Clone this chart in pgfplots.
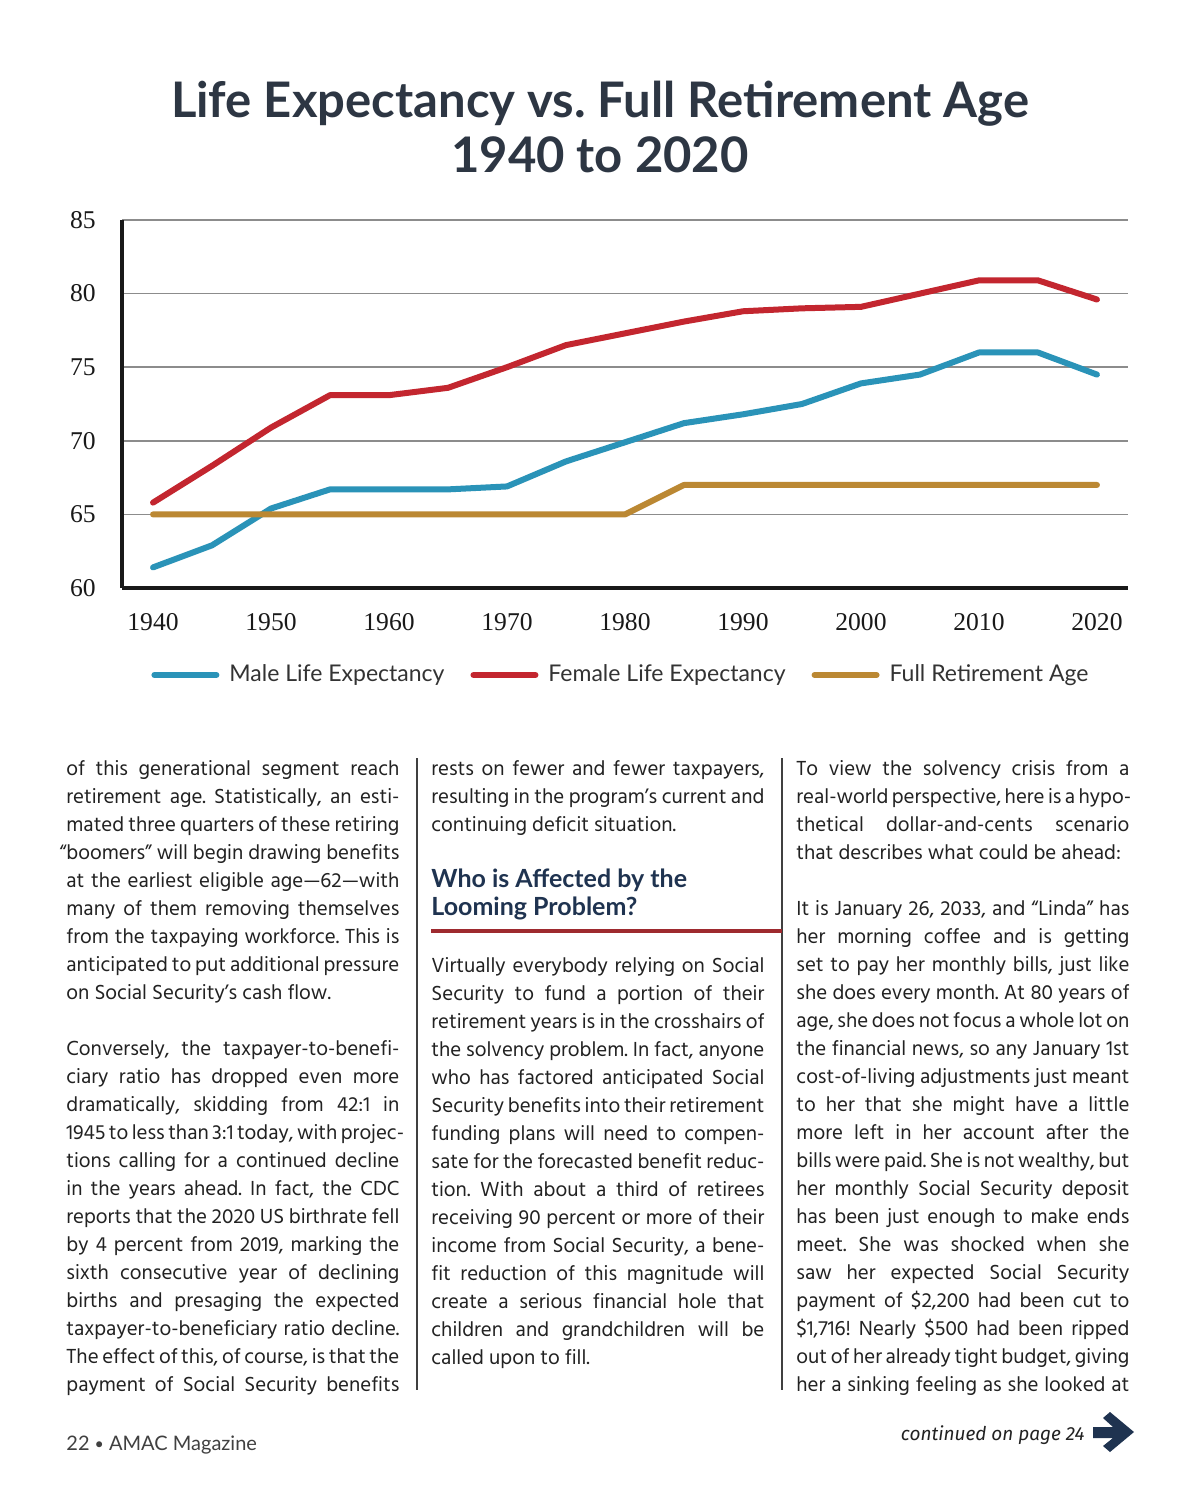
\documentclass[border=0pt]{standalone}
\usepackage{pgfplots}
\pgfplotsset{compat=1.18}
\usepackage{fontspec}
\setmainfont{Lato}
\newfontfamily\bodyfont{Hind Madurai}
\newfontfamily\tickfont{Liberation Serif}
\newfontfamily\notefont{Fira Sans}

\definecolor{male}{HTML}{2A93B8}
\definecolor{female}{HTML}{C3262F}
\definecolor{fra}{HTML}{BB8833}
\definecolor{titlecol}{HTML}{2D3643}
\definecolor{headcol}{HTML}{1F3350}
\definecolor{rulecol}{HTML}{9E2A2F}
\definecolor{bodycol}{HTML}{222222}

\frenchspacing
\newlength\cw
\setlength\cw{166.5pt}
\newcommand\jline[1]{\hbox to \cw{#1}}
\newcommand\lline[1]{\hbox to \cw{#1\hfil}}
\newcommand\bline{\hbox{}}
\newcommand\bodysize{\bodyfont\fontsize{10.45}{14}\selectfont}

\pgfplotstableread{
year male female fra
1940 61.4 65.8 65
1945 62.9 68.3 65
1950 65.4 70.9 65
1955 66.7 73.1 65
1960 66.7 73.1 65
1965 66.7 73.6 65
1970 66.9 75.0 65
1975 68.6 76.5 65
1980 69.9 77.3 65
1985 71.2 78.1 67
1990 71.8 78.8 67
1995 72.5 79.0 67
2000 73.9 79.1 67
2005 74.5 80.0 67
2010 76.0 80.9 67
2015 76.0 80.9 67
2020 74.5 79.6 67
}\lifedata

\begin{document}
\begin{tikzpicture}
\begin{scope}[x=0.5pt,y=-0.5pt]
\path[fill=white] (0,0) rectangle (1200,1504);

% title
\node[anchor=base, inner sep=0, text=titlecol, font=\bfseries\fontsize{24.5}{28}\selectfont] at (600,118) {Life Expectancy vs. Full Retirement Age};
\node[anchor=base, inner sep=0, text=titlecol, font=\bfseries\fontsize{24.5}{28}\selectfont] at (600,172) {1940 to 2020};
\end{scope}

\begin{axis}[
  at={(61pt,-294pt)}, anchor=south west,
  scale only axis, width=503pt, height=184pt,
  xmin=1937.37, xmax=2022.63, ymin=60, ymax=85,
  axis x line*=bottom, axis y line*=left,
  axis line style={line width=2pt, black!90, -},
  xtick={1940,1950,...,2020}, ytick={60,65,...,85},
  major tick length=0pt,
  ymajorgrids, major grid style={black!45, line width=0.75pt},
  tick label style={font=\tickfont\fontsize{12.8}{14}\selectfont, text=black!90, inner sep=0pt, /pgf/number format/assume math mode=true},
  x tick label style={/pgf/number format/1000 sep={}, yshift=-12.5pt},
  y tick label style={xshift=-13pt},
  legend style={at={(0.5,-0.2364)}, anchor=center, draw=none, fill=none,
    font=\fontsize{11.5}{13}\selectfont, text=black!80,
    nodes={inner xsep=5pt},
    /tikz/every even column/.append style={column sep=8pt}},
  legend columns=3, legend cell align=left,
  legend image code/.code={\draw[#1, line cap=round] (0pt,0pt) -- (31pt,0pt);},
  every axis plot/.append style={line width=3pt, line join=round, line cap=round},
]
\addplot[male] table[x=year, y=male] {\lifedata};
\addlegendentry{Male Life Expectancy}
\addplot[female] table[x=year, y=female] {\lifedata};
\addlegendentry{Female Life Expectancy}
\addplot[fra] table[x=year, y=fra] {\lifedata};
\addlegendentry{Full Retirement Age}
\end{axis}

\begin{scope}[x=0.5pt,y=-0.5pt]
% column rules
\draw[black!75, line width=0.75pt] (417,758) -- (417,1390);
\draw[black!75, line width=0.75pt] (782,758) -- (782,1390);

% column 1
\node[anchor=base west, inner sep=0, text=bodycol, font=\bodysize] at (66,775) {\vtop{\baselineskip=14pt
\jline{of this generational segment reach}
\jline{retirement age. Statistically, an esti-}
\jline{mated three quarters of these retiring}
\jline{\llap{“}boomers” will begin drawing benefits}
\jline{at the earliest eligible age—62—with}
\jline{many of them removing themselves}
\jline{from the taxpaying workforce. This is}
\jline{anticipated to put additional pressure}
\lline{on Social Security’s cash flow.}
\bline
\jline{Conversely, the taxpayer-to-benefi-}
\jline{ciary ratio has dropped even more}
\jline{dramatically, skidding from 42:1 in}
\jline{1945 to less than 3:1 today, with projec-}
\jline{tions calling for a continued decline}
\jline{in the years ahead. In fact, the CDC}
\jline{reports that the 2020 US birthrate fell}
\jline{by 4 percent from 2019, marking the}
\jline{sixth consecutive year of declining}
\jline{births and presaging the expected}
\jline{taxpayer-to-beneficiary ratio decline.}
\jline{The effect of this, of course, is that the}
\jline{payment of Social Security benefits}
}};

% column 2
\node[anchor=base west, inner sep=0, text=bodycol, font=\bodysize] at (431,775) {\vtop{\baselineskip=14pt
\jline{rests on fewer and fewer taxpayers,}
\jline{resulting in the program’s current and}
\lline{continuing deficit situation.}
}};
\node[anchor=base west, inner sep=0, text=headcol, font=\bfseries\fontsize{12.5}{14}\selectfont] at (431,887) {Who is Affected by the};
\node[anchor=base west, inner sep=0, text=headcol, font=\bfseries\fontsize{12.5}{14}\selectfont] at (431,915) {Looming Problem?};
\draw[rulecol, line width=2pt] (431,931) -- (782,931);
\node[anchor=base west, inner sep=0, text=bodycol, font=\bodysize] at (431,972) {\vtop{\baselineskip=14pt
\jline{Virtually everybody relying on Social}
\jline{Security to fund a portion of their}
\jline{retirement years is in the crosshairs of}
\jline{the solvency problem. In fact, anyone}
\jline{who has factored anticipated Social}
\jline{Security benefits into their retirement}
\jline{funding plans will need to compen-}
\jline{sate for the forecasted benefit reduc-}
\jline{tion. With about a third of retirees}
\jline{receiving 90 percent or more of their}
\jline{income from Social Security, a bene-}
\jline{fit reduction of this magnitude will}
\jline{create a serious financial hole that}
\jline{children and grandchildren will be}
\lline{called upon to fill.}
}};

% column 3
\node[anchor=base west, inner sep=0, text=bodycol, font=\bodysize] at (796,775) {\vtop{\baselineskip=14pt
\jline{To view the solvency crisis from a}
\jline{real-world perspective, here is a hypo-}
\jline{thetical dollar-and-cents scenario}
\lline{that describes what could be ahead:}
\bline
\jline{It is January 26, 2033, and “Linda” has}
\jline{her morning coffee and is getting}
\jline{set to pay her monthly bills, just like}
\jline{she does every month. At 80 years of}
\jline{age, she does not focus a whole lot on}
\jline{the financial news, so any January 1st}
\jline{cost-of-living adjustments just meant}
\jline{to her that she might have a little}
\jline{more left in her account after the}
\jline{bills were paid. She is not wealthy, but}
\jline{her monthly Social Security deposit}
\jline{has been just enough to make ends}
\jline{meet. She was shocked when she}
\jline{saw her expected Social Security}
\jline{payment of \$2,200 had been cut to}
\jline{\$1,716! Nearly \$500 had been ripped}
\jline{out of her already tight budget, giving}
\jline{her a sinking feeling as she looked at}
}};

% footer
\node[anchor=base west, inner sep=0, text=black!75, font=\fontsize{10}{12}\selectfont] at (66,1450) {22 {\footnotesize\raisebox{0.1ex}{•}} AMAC Magazine};
\node[anchor=base east, inner sep=0, text=bodycol, font=\notefont\itshape\fontsize{9.5}{12}\selectfont] at (1085,1440) {continued on page 24};
\fill[headcol] (1093,1427) -- (1113,1427) -- (1103,1418) -- (1110,1412) -- (1134,1432) -- (1110,1452) -- (1103,1446) -- (1113,1438) -- (1093,1438) -- cycle;
\end{scope}
\end{tikzpicture}
\end{document}
